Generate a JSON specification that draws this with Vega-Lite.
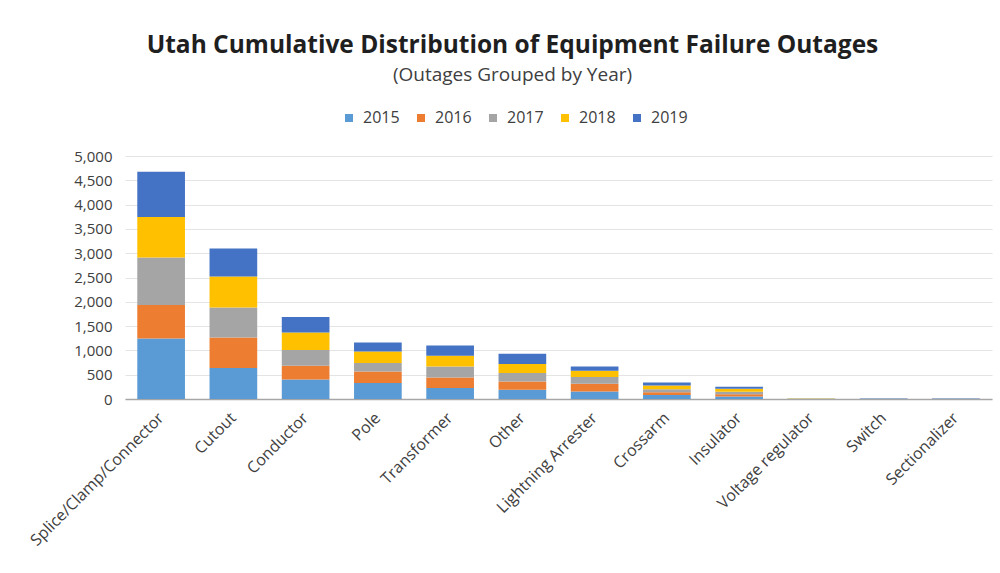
{
  "$schema": "https://vega.github.io/schema/vega-lite/v6.json",
  "autosize": "none",
  "width": 867,
  "height": 243,
  "padding": {"left": 125, "top": 156, "right": 8, "bottom": 174},
  "background": "white",
  "title": {
    "text": "Utah Cumulative Distribution of Equipment Failure Outages",
    "subtitle": "(Outages Grouped by Year)",
    "font": "Open Sans",
    "fontSize": 24.5,
    "fontWeight": "bold",
    "color": "#1F1F1F",
    "subtitleFont": "Open Sans",
    "subtitleFontSize": 19,
    "subtitleColor": "#404040",
    "subtitlePadding": 8,
    "anchor": "middle",
    "frame": "group",
    "dx": -46,
    "offset": 24
  },
  "data": {
    "values": [
      {"equipment": "Splice/Clamp/Connector", "year": "2015", "outages": 1245},
      {"equipment": "Splice/Clamp/Connector", "year": "2016", "outages": 687},
      {"equipment": "Splice/Clamp/Connector", "year": "2017", "outages": 978},
      {"equipment": "Splice/Clamp/Connector", "year": "2018", "outages": 836},
      {"equipment": "Splice/Clamp/Connector", "year": "2019", "outages": 931},
      {"equipment": "Cutout", "year": "2015", "outages": 637},
      {"equipment": "Cutout", "year": "2016", "outages": 629},
      {"equipment": "Cutout", "year": "2017", "outages": 617},
      {"equipment": "Cutout", "year": "2018", "outages": 637},
      {"equipment": "Cutout", "year": "2019", "outages": 575},
      {"equipment": "Conductor", "year": "2015", "outages": 403},
      {"equipment": "Conductor", "year": "2016", "outages": 281},
      {"equipment": "Conductor", "year": "2017", "outages": 323},
      {"equipment": "Conductor", "year": "2018", "outages": 362},
      {"equipment": "Conductor", "year": "2019", "outages": 316},
      {"equipment": "Pole", "year": "2015", "outages": 330},
      {"equipment": "Pole", "year": "2016", "outages": 237},
      {"equipment": "Pole", "year": "2017", "outages": 173},
      {"equipment": "Pole", "year": "2018", "outages": 238},
      {"equipment": "Pole", "year": "2019", "outages": 182},
      {"equipment": "Transformer", "year": "2015", "outages": 226},
      {"equipment": "Transformer", "year": "2016", "outages": 218},
      {"equipment": "Transformer", "year": "2017", "outages": 226},
      {"equipment": "Transformer", "year": "2018", "outages": 220},
      {"equipment": "Transformer", "year": "2019", "outages": 210},
      {"equipment": "Other", "year": "2015", "outages": 190},
      {"equipment": "Other", "year": "2016", "outages": 172},
      {"equipment": "Other", "year": "2017", "outages": 172},
      {"equipment": "Other", "year": "2018", "outages": 185},
      {"equipment": "Other", "year": "2019", "outages": 211},
      {"equipment": "Lightning Arrester", "year": "2015", "outages": 156},
      {"equipment": "Lightning Arrester", "year": "2016", "outages": 158},
      {"equipment": "Lightning Arrester", "year": "2017", "outages": 138},
      {"equipment": "Lightning Arrester", "year": "2018", "outages": 130},
      {"equipment": "Lightning Arrester", "year": "2019", "outages": 88},
      {"equipment": "Crossarm", "year": "2015", "outages": 80},
      {"equipment": "Crossarm", "year": "2016", "outages": 60},
      {"equipment": "Crossarm", "year": "2017", "outages": 60},
      {"equipment": "Crossarm", "year": "2018", "outages": 80},
      {"equipment": "Crossarm", "year": "2019", "outages": 60},
      {"equipment": "Insulator", "year": "2015", "outages": 50},
      {"equipment": "Insulator", "year": "2016", "outages": 50},
      {"equipment": "Insulator", "year": "2017", "outages": 50},
      {"equipment": "Insulator", "year": "2018", "outages": 60},
      {"equipment": "Insulator", "year": "2019", "outages": 40},
      {"equipment": "Voltage regulator", "year": "2015", "outages": 4},
      {"equipment": "Voltage regulator", "year": "2016", "outages": 3},
      {"equipment": "Voltage regulator", "year": "2017", "outages": 3},
      {"equipment": "Voltage regulator", "year": "2018", "outages": 3},
      {"equipment": "Voltage regulator", "year": "2019", "outages": 3},
      {"equipment": "Switch", "year": "2015", "outages": 3},
      {"equipment": "Switch", "year": "2016", "outages": 3},
      {"equipment": "Switch", "year": "2017", "outages": 3},
      {"equipment": "Switch", "year": "2018", "outages": 3},
      {"equipment": "Switch", "year": "2019", "outages": 3},
      {"equipment": "Sectionalizer", "year": "2015", "outages": 3},
      {"equipment": "Sectionalizer", "year": "2016", "outages": 3},
      {"equipment": "Sectionalizer", "year": "2017", "outages": 3},
      {"equipment": "Sectionalizer", "year": "2018", "outages": 3},
      {"equipment": "Sectionalizer", "year": "2019", "outages": 3}
    ]
  },
  "mark": {"type": "bar"},
  "encoding": {
    "x": {
      "field": "equipment",
      "type": "nominal",
      "sort": null,
      "scale": {"paddingInner": 0.34, "paddingOuter": 0.17},
      "axis": {
        "title": null,
        "labelAngle": -45,
        "labelAlign": "right",
        "labelBaseline": "middle",
        "labelFont": "Open Sans",
        "labelFontSize": 16,
        "labelLimit": 400,
        "labelColor": "#404040",
        "labelPadding": 16,
        "ticks": false,
        "domainColor": "#A6A6A6",
        "domainWidth": 1.5
      }
    },
    "y": {
      "field": "outages",
      "type": "quantitative",
      "stack": "zero",
      "scale": {"domain": [0, 5000], "nice": false},
      "axis": {
        "title": null,
        "values": [0, 500, 1000, 1500, 2000, 2500, 3000, 3500, 4000, 4500, 5000],
        "format": ",.0f",
        "labelFont": "Open Sans",
        "labelFontSize": 15,
        "labelColor": "#404040",
        "labelPadding": 13,
        "ticks": false,
        "domain": false,
        "grid": true,
        "gridColor": "#E4E4E4"
      }
    },
    "color": {
      "field": "year",
      "type": "nominal",
      "scale": {
        "domain": ["2015", "2016", "2017", "2018", "2019"],
        "range": ["#5B9BD5", "#ED7D31", "#A5A5A5", "#FFC000", "#4472C4"]
      },
      "legend": {
        "title": null,
        "orient": "none",
        "direction": "horizontal",
        "legendX": 216,
        "legendY": -46,
        "symbolType": "square",
        "symbolSize": 64,
        "symbolStrokeWidth": 0,
        "labelFont": "Open Sans",
        "labelFontSize": 16,
        "labelColor": "#404040",
        "columnPadding": 13,
        "labelOffset": 6
      }
    },
    "order": {"field": "year", "type": "nominal", "sort": "ascending"}
  },
  "config": {"view": {"stroke": null}}
}
